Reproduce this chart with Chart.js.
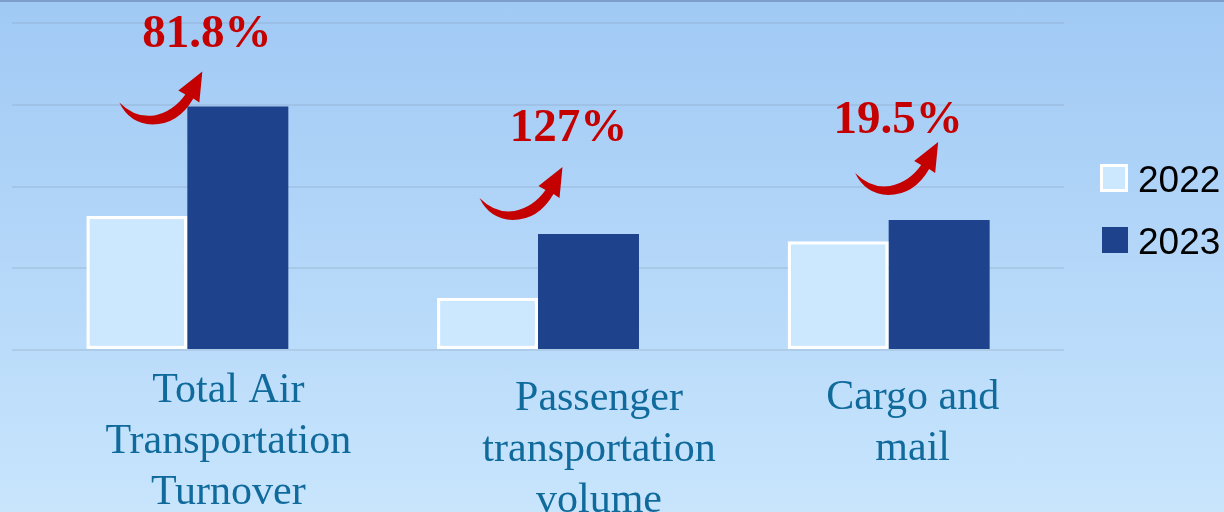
<!DOCTYPE html>
<html>
<head>
<meta charset="utf-8">
<script src="https://cdn.jsdelivr.net/npm/chart.js@4.4.0/dist/chart.umd.min.js"></script>
<style>
    html, body { margin: 0; padding: 0; }
    body {
        width: 1224px;
        height: 512px;
        overflow: hidden;
        background: linear-gradient(to bottom, #7d9dcb 0px, #7d9dcb 2px, #a0c9f4 2px, #b4d7f9 50%, #c8e5fc 100%);
    }
    #contenedor { position: relative; width: 1224px; height: 512px; }
</style>
</head>
<body>
<div id="contenedor">
    <canvas id="graficoDatos" width="1224" height="512"></canvas>
</div>
<script>
// Datos
const categorias = [
    ['Total Air', 'Transportation', 'Turnover'],
    ['Passenger', 'transportation', 'volume'],
    ['Cargo and', 'mail']
];
const anios = ['2022', '2023'];
const valores2022 = [1.64, 0.64, 1.33];
const valores2023 = [2.98, 1.42, 1.59];
const crecimiento = ['81.8%', '127%', '19.5%'];
const ticksY = [0, 1, 2, 3, 4];

// Ajustes de posicion de textos y flechas (pixeles)
const etiquetaDx = [41, 61, 24];
const etiquetaDy = [52, 60, 59];
const flechaDx = [15, 24.5, 49.5];
const flechaDy = [-35, -67, -78];
const textoDx = [19.5, 30.5, 9.5];
const textoDy = [-59, -93, -87];

function dibujarFlecha(ctx, tx, ty) {
    ctx.beginPath();
    ctx.moveTo(tx - 83, ty + 31);
    ctx.quadraticCurveTo(tx - 67, ty + 47, tx - 48, ty + 44);
    ctx.quadraticCurveTo(tx - 29, ty + 40, tx - 17, ty + 23);
    ctx.lineTo(tx - 24, ty + 19);
    ctx.lineTo(tx, ty);
    ctx.lineTo(tx - 3, ty + 31);
    ctx.lineTo(tx - 9, ty + 27);
    ctx.quadraticCurveTo(tx - 24, ty + 53, tx - 50, ty + 53);
    ctx.quadraticCurveTo(tx - 73, ty + 52, tx - 83, ty + 31);
    ctx.closePath();
    ctx.fillStyle = '#c40000';
    ctx.fill();
}

const extras = {
    id: 'extras',
    afterDraw(chart) {
        const ctx = chart.ctx;
        const x = chart.scales.x;
        const area = chart.chartArea;
        ctx.save();

        // Etiquetas de categoria
        ctx.font = "42px 'Liberation Serif', 'Times New Roman', serif";
        ctx.fillStyle = '#106b9c';
        ctx.textAlign = 'center';
        ctx.textBaseline = 'alphabetic';
        chart.data.labels.forEach((lineas, i) => {
            const cx = x.getPixelForValue(i) + etiquetaDx[i];
            lineas.forEach((t, j) => {
                ctx.fillText(t, cx, area.bottom + etiquetaDy[i] + j * 51);
            });
        });

        // Flechas y porcentajes
        const meta = chart.getDatasetMeta(1);
        crecimiento.forEach((txt, i) => {
            const barra = meta.data[i];
            const cx = x.getPixelForValue(i);
            const top = barra.y;
            dibujarFlecha(ctx, cx + flechaDx[i], top + flechaDy[i]);
            ctx.font = "bold 47px 'Liberation Serif', 'Times New Roman', serif";
            ctx.fillStyle = '#c40000';
            ctx.textAlign = 'center';
            ctx.fillText(txt, cx + textoDx[i], top + textoDy[i]);
        });

        // Leyenda
        ctx.font = "37px 'Liberation Sans', Arial, sans-serif";
        ctx.textAlign = 'left';
        chart.data.datasets.forEach((ds, i) => {
            const by = 164 + i * 63;
            if (i === 0) {
                ctx.fillStyle = '#ffffff';
                ctx.fillRect(1100, by, 28, 28);
                ctx.fillStyle = ds.backgroundColor;
                ctx.fillRect(1103, by + 3, 22, 22);
            } else {
                ctx.fillStyle = ds.backgroundColor;
                ctx.fillRect(1102, by, 26, 26);
            }
            ctx.fillStyle = '#000000';
            ctx.fillText(ds.label, 1138, by + 28 - i * 1);
        });
        ctx.restore();
    }
};

const ctx = document.getElementById('graficoDatos').getContext('2d');
const chart = new Chart(ctx, {
    type: 'bar',
    data: {
        labels: categorias,
        datasets: [{
            label: anios[0],
            data: valores2022,
            backgroundColor: '#cbe8fe',
            borderColor: '#ffffff',
            borderWidth: 3.5,
            borderSkipped: false
        }, {
            label: anios[1],
            data: valores2023,
            backgroundColor: '#1e428c',
            borderWidth: 0
        }]
    },
    options: {
        responsive: false,
        animation: false,
        layout: { padding: { left: 12, right: 160, top: 23, bottom: 162 } },
        datasets: {
            bar: { barPercentage: 1, categoryPercentage: 0.576 }
        },
        plugins: {
            legend: { display: false },
            tooltip: { enabled: false }
        },
        scales: {
            x: { display: false },
            y: {
                min: ticksY[0],
                max: ticksY[ticksY.length - 1],
                afterBuildTicks: (s) => { s.ticks = ticksY.map(v => ({ value: v })); },
                ticks: { display: false },
                border: { display: false },
                grid: { color: 'rgba(130, 155, 185, 0.25)', lineWidth: 2, drawTicks: false }
            }
        }
    },
    plugins: [extras]
});
</script>
</body>
</html>
